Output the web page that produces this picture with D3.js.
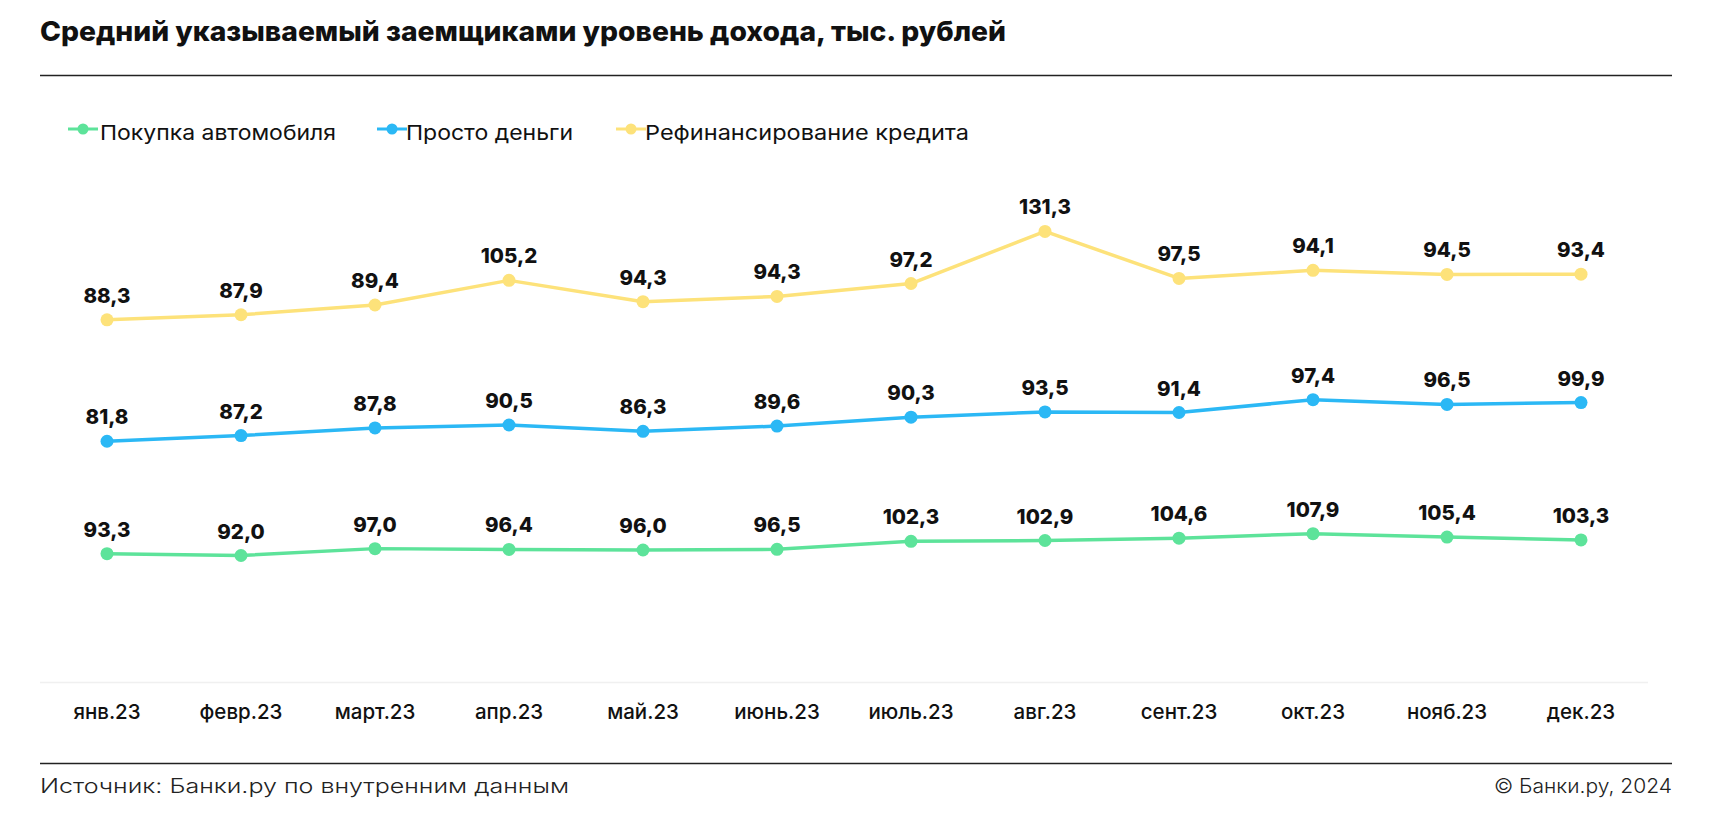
<!DOCTYPE html>
<html><head><meta charset="utf-8">
<script src="https://cdn.jsdelivr.net/npm/d3@7"></script>
<style>
html,body{margin:0;padding:0;background:#fff;}
text{font-family:Inter,"Noto Sans",sans-serif;}
</style></head>
<body>
<svg id="chart" width="1712" height="820"></svg>
<script>
const months = ["янв.23","февр.23","март.23","апр.23","май.23","июнь.23","июль.23","авг.23","сент.23","окт.23","нояб.23","дек.23"];
const seriesNames = ["Покупка автомобиля","Просто деньги","Рефинансирование кредита"];
const carValues = [93.3,92.0,97.0,96.4,96.0,96.5,102.3,102.9,104.6,107.9,105.4,103.3];
const cashValues = [81.8,87.2,87.8,90.5,86.3,89.6,90.3,93.5,91.4,97.4,96.5,99.9];
const refiValues = [88.3,87.9,89.4,105.2,94.3,94.3,97.2,131.3,97.5,94.1,94.5,93.4];
const colors = ["#5DE39A","#2BB8F5","#FDE27A"];
const titleText = "Средний указываемый заемщиками уровень дохода, тыс. рублей";
const sourceText = "Источник: Банки.ру по внутренним данным";
const copyText = "© Банки.ру, 2024";

const svg = d3.select("#chart");
const fmt = v => d3.format(".1f")(v).replace(".", ",");

// stacked data
const rows = months.map((m,i)=>({m, s0:carValues[i], s1:cashValues[i], s2:refiValues[i]}));
const stack = d3.stack().keys(["s0","s1","s2"])(rows);

const x = d3.scaleBand().domain(months).range([40,1648]);
const y = d3.scaleLinear().domain([0,350]).range([682,200.75]);
const cx = m => x(m) + x.bandwidth()/2;

// title
svg.append("text").attr("x",40).attr("y",41).attr("font-size",27).attr("font-weight",800)
  .attr("fill","#111").attr("textLength",966).attr("lengthAdjust","spacingAndGlyphs").text(titleText);
svg.append("line").attr("x1",40).attr("x2",1672).attr("y1",75.5).attr("y2",75.5).attr("stroke","#222").attr("stroke-width",1.5);

// legend
const legendPos = [{mx:68, tx:100, tw:236},{mx:377, tx:406, tw:167},{mx:616, tx:645, tw:324}];
seriesNames.forEach((n,i)=>{
  const g = svg.append("g");
  const p = legendPos[i];
  g.append("line").attr("x1",p.mx).attr("x2",p.mx+30).attr("y1",129).attr("y2",129).attr("stroke",colors[i]).attr("stroke-width",3);
  g.append("circle").attr("cx",p.mx+15).attr("cy",129).attr("r",5.5).attr("fill",colors[i]);
  g.append("text").attr("x",p.tx).attr("y",140).attr("font-size",20.5).attr("font-weight",400).attr("fill","#111")
    .attr("textLength",p.tw).attr("lengthAdjust","spacingAndGlyphs").text(n);
});

// baseline gridline
svg.append("line").attr("x1",40).attr("x2",1648).attr("y1",y(0)+0.5).attr("y2",y(0)+0.5).attr("stroke","#f0f0f0").attr("stroke-width",1.5);

// x axis
const xAxis = d3.axisBottom(x).tickSize(0).tickPadding(0);
const ax = svg.append("g").attr("transform",`translate(0,${y(0)})`).call(xAxis);
ax.select(".domain").remove();
ax.selectAll("text").attr("font-size",20.5).attr("font-weight",500).attr("fill","#111")
  .attr("font-family","Inter, sans-serif").attr("dy",0).attr("y",37);

// lines
const origVals = [carValues,cashValues,refiValues];
const line = d3.line().x(d=>cx(d.data.m)).y(d=>y(d[1]));
stack.forEach((s,i)=>{
  svg.append("path").datum(s).attr("d",line).attr("fill","none").attr("stroke",colors[i]).attr("stroke-width",3.5).attr("stroke-linejoin","round");
});
stack.forEach((s,i)=>{
  svg.append("g").selectAll("circle").data(s).join("circle")
    .attr("cx",d=>cx(d.data.m)).attr("cy",d=>y(d[1])).attr("r",6.5).attr("fill",colors[i]);
  svg.append("g").selectAll("text").data(s).join("text")
    .attr("x",d=>cx(d.data.m)).attr("y",d=>y(d[1])-17).attr("text-anchor","middle")
    .attr("font-size",20.5).attr("font-weight",800).attr("fill","#111")
    .text((d,j)=>fmt(origVals[i][j]));
});

// footer
svg.append("line").attr("x1",40).attr("x2",1672).attr("y1",763.5).attr("y2",763.5).attr("stroke","#222").attr("stroke-width",1.5);
svg.append("text").attr("x",40).attr("y",793).attr("font-size",20).attr("font-weight",300).attr("fill","#222")
  .attr("textLength",529).attr("lengthAdjust","spacingAndGlyphs").text(sourceText);
svg.append("text").attr("x",1672).attr("y",793).attr("text-anchor","end").attr("font-size",20).attr("font-weight",300).attr("fill","#222")
  .attr("textLength",178).attr("lengthAdjust","spacingAndGlyphs").text(copyText);
</script>
</body></html>
